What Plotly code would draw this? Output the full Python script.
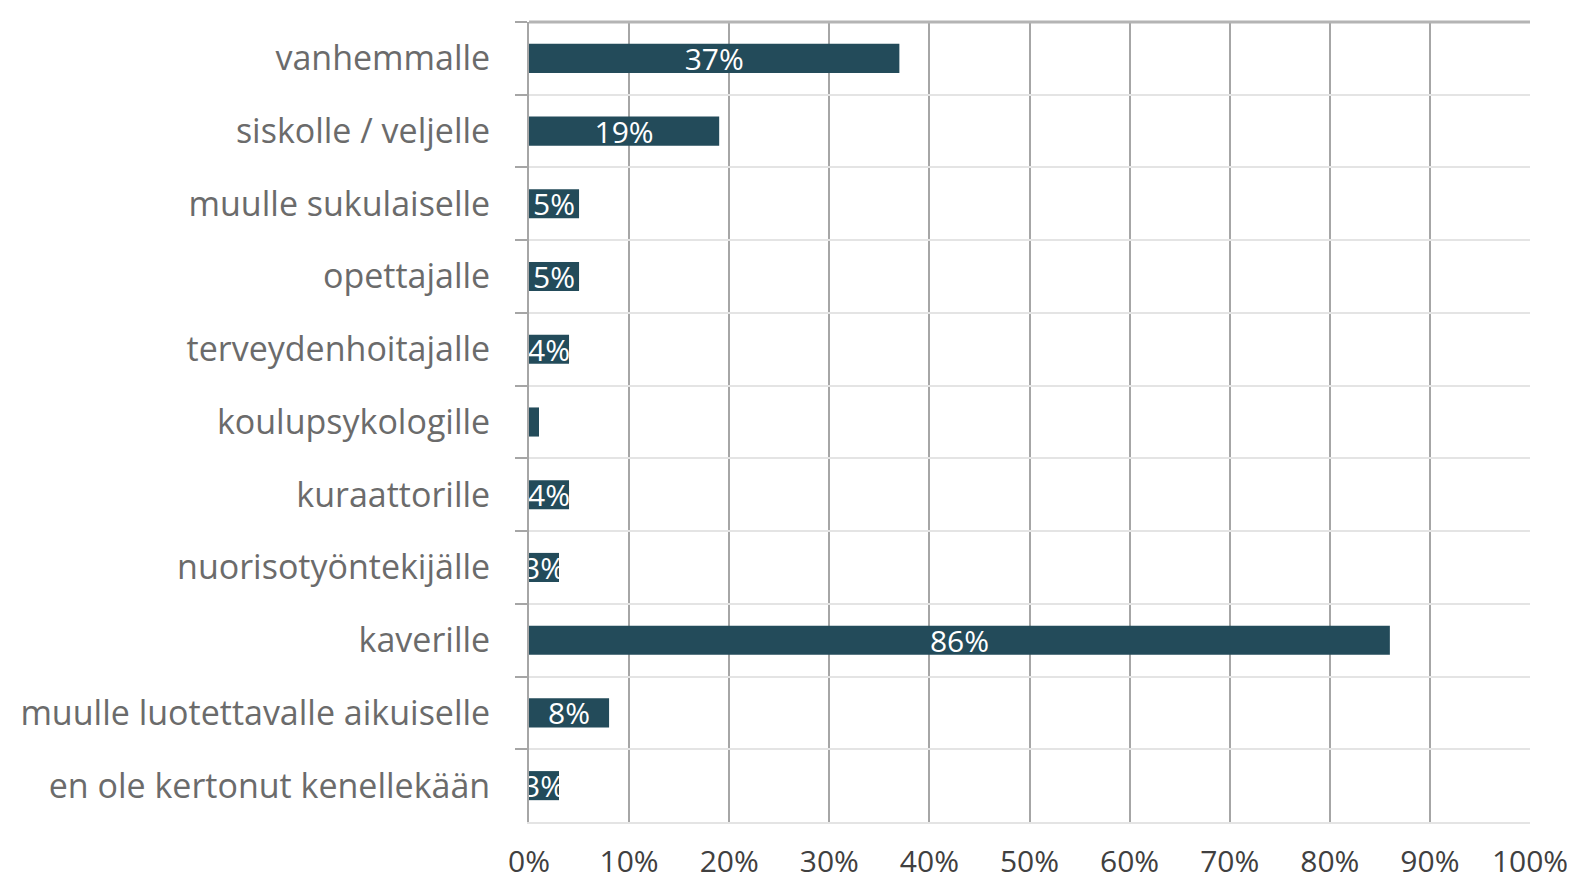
import plotly.graph_objects as go

categories = [
    "vanhemmalle",
    "siskolle / veljelle",
    "muulle sukulaiselle",
    "opettajalle",
    "terveydenhoitajalle",
    "koulupsykologille",
    "kuraattorille",
    "nuorisotyöntekijälle",
    "kaverille",
    "muulle luotettavalle aikuiselle",
    "en ole kertonut kenellekään",
]
values = [0.37, 0.19, 0.05, 0.05, 0.04, 0.01, 0.04, 0.03, 0.86, 0.08, 0.03]
labels = ["37%", "19%", "5%", "5%", "4%", "", "4%", "3%", "86%", "8%", "3%"]
x_ticks = [0, 0.1, 0.2, 0.3, 0.4, 0.5, 0.6, 0.7, 0.8, 0.9, 1.0]
x_ticktext = ["0%", "10%", "20%", "30%", "40%", "50%", "60%", "70%", "80%", "90%", "100%"]

FONT = "Open Sans"

fig = go.Figure(
    go.Bar(
        x=values,
        y=categories,
        orientation="h",
        marker=dict(color="#234b5a", line=dict(width=0)),
        text=labels,
        textposition="inside",
        insidetextanchor="middle",
        constraintext="none",
        textangle=0,
        textfont=dict(family=FONT, size=30, color="white"),
        cliponaxis=True,
        width=0.40,
    )
)

fig.update_layout(
    width=1567,
    height=874,
    margin=dict(l=521, r=45, t=14, b=60),
    paper_bgcolor="white",
    plot_bgcolor="white",
    showlegend=False,
    shapes=[
        dict(type="line", xref="paper", yref="paper", x0=0, x1=1, y0=1, y1=1,
             line=dict(color="#b4b4b4", width=3), layer="above"),
    ],
)

fig.update_xaxes(
    automargin=False,
    range=[0, 1.0],
    tickvals=x_ticks,
    ticktext=x_ticktext,
    showgrid=True,
    gridcolor="#a6a6a6",
    gridwidth=2,
    zeroline=False,
    showline=True,
    linecolor="#e4e4e4",
    linewidth=2,
    ticks="",
    ticklabelstandoff=12,
    tickfont=dict(family=FONT, size=30, color="#404040"),
    fixedrange=True,
)

fig.update_yaxes(
    automargin=False,
    categoryorder="array",
    categoryarray=categories,
    autorange="reversed",
    showgrid=True,
    gridcolor="#e4e4e4",
    gridwidth=2,
    tickson="boundaries",
    ticks="outside",
    ticklen=12,
    tickwidth=2,
    tickcolor="#a6a6a6",
    showline=True,
    linecolor="#a6a6a6",
    linewidth=2,
    ticklabelstandoff=30,
    tickfont=dict(family=FONT, size=34, color="#6b6b6b"),
    fixedrange=True,
)

fig.write_html("out.html")
